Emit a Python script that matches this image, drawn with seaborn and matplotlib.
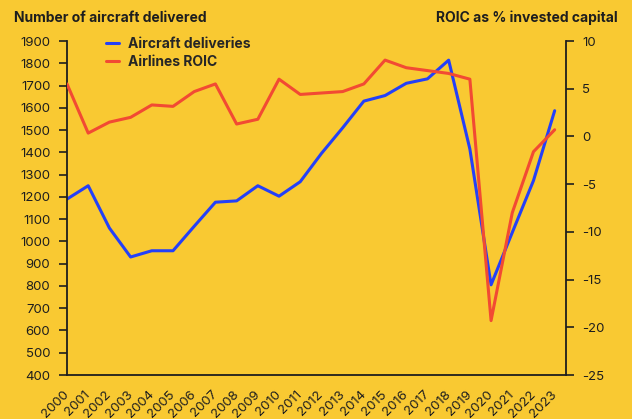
import numpy as np
import pandas as pd
import matplotlib
matplotlib.use("Agg")
import matplotlib.pyplot as plt
import matplotlib.transforms as mtransforms
import seaborn as sns
from matplotlib.lines import Line2D

years = list(range(2000, 2024))
deliveries = [1190, 1250, 1060, 930, 958, 958, 1068, 1176, 1182, 1250, 1203, 1268,
              1395, 1510, 1630, 1655, 1710, 1730, 1814, 1415, 805, 1040, 1273, 1587]
roic = [5.5, 0.35, 1.5, 2.0, 3.3, 3.15, 4.7, 5.5, 1.3, 1.8, 6.0, 4.4,
        4.55, 4.7, 5.5, 8.0, 7.2, 6.9, 6.6, 6.0, -19.3, -8.0, -1.6, 0.7]
left_ticks = list(range(400, 2000, 100))
right_ticks = [10, 5, 0, -5, -10, -15, -20, -25]

BG = "#F9C932"
BLUE = "#2440F8"
RED = "#F24A33"
INK = "#1E1E1E"

sns.set_theme(style="white")
plt.rcParams["font.family"] = ["Inter", "DejaVu Sans"]

df = pd.DataFrame({"idx": np.arange(len(years)), "year": years,
                   "deliveries": deliveries, "roic": roic})

fig = plt.figure(figsize=(6.32, 4.19), dpi=100, facecolor=BG)
ax = fig.add_axes([67/632, 1-375/419, (565.7-67)/632, (375-41)/419])
ax.set_facecolor(BG)
ax2 = ax.twinx()

sns.lineplot(data=df, x="idx", y="deliveries", ax=ax, color=BLUE, lw=2.2)
sns.lineplot(data=df, x="idx", y="roic", ax=ax2, color=RED, lw=2.2)

ax.set_xlim(0, 23.52)
ax.set_ylim(400, 1900)
ax2.set_ylim(-25, 10)
ax.set_xlabel("")
ax.set_ylabel("")
ax2.set_ylabel("")

ax.set_yticks(left_ticks)
ax.set_yticklabels([str(t) for t in left_ticks])
ax2.set_yticks(right_ticks)
ax2.set_yticklabels([str(t) for t in right_ticks])

# labels at every year, tick marks on a coarser grid
ax.set_xticks(df["idx"])
ax.set_xticklabels([str(y) for y in years], rotation=45, ha="right",
                   va="center", rotation_mode="anchor")
shift = mtransforms.ScaledTranslation(3/100, 0, fig.dpi_scale_trans)
for lab in ax.get_xticklabels():
    lab.set_transform(lab.get_transform() + shift)
mk = list(np.arange(17) * 1.368) + [23.52]
ax.set_xticks(mk, minor=True)
ax.tick_params(axis="x", which="major", length=0, pad=12.5, labelsize=9.5, colors=INK)
ax.tick_params(axis="x", which="minor", length=6, width=1.2, color=INK, direction="out")
ax.tick_params(axis="y", length=6, width=1.2, color=INK, labelsize=9.5,
               labelcolor=INK, pad=6, left=True)
ax2.tick_params(axis="y", length=6, width=1.2, color=INK, labelsize=9.5,
                labelcolor=INK, pad=6, right=True)

for a in (ax, ax2):
    for s in a.spines.values():
        s.set_visible(False)
ax.spines["left"].set_visible(True)
ax.spines["bottom"].set_visible(True)
ax2.spines["right"].set_visible(True)
for s in (ax.spines["left"], ax.spines["bottom"], ax2.spines["right"]):
    s.set_color(INK)
    s.set_linewidth(1.3)

handles = [Line2D([], [], color=BLUE, lw=2.2), Line2D([], [], color=RED, lw=2.2)]
leg = ax2.legend(handles, ["Aircraft deliveries", "Airlines ROIC"],
                 loc="upper left", bbox_to_anchor=(93/632, 1-24/419),
                 bbox_transform=fig.transFigure, frameon=False,
                 handlelength=1.0, handletextpad=0.6, labelspacing=0.3,
                 prop={"weight": "bold", "size": 10})

fig.text(14/632, 1-18/419, "Number of aircraft delivered", fontsize=10,
         fontweight="bold", color=INK, ha="left", va="center")
fig.text(618/632, 1-18/419, "ROIC as % invested capital", fontsize=10,
         fontweight="bold", color=INK, ha="right", va="center")

fig.savefig("out.png", dpi=100, facecolor=BG)
